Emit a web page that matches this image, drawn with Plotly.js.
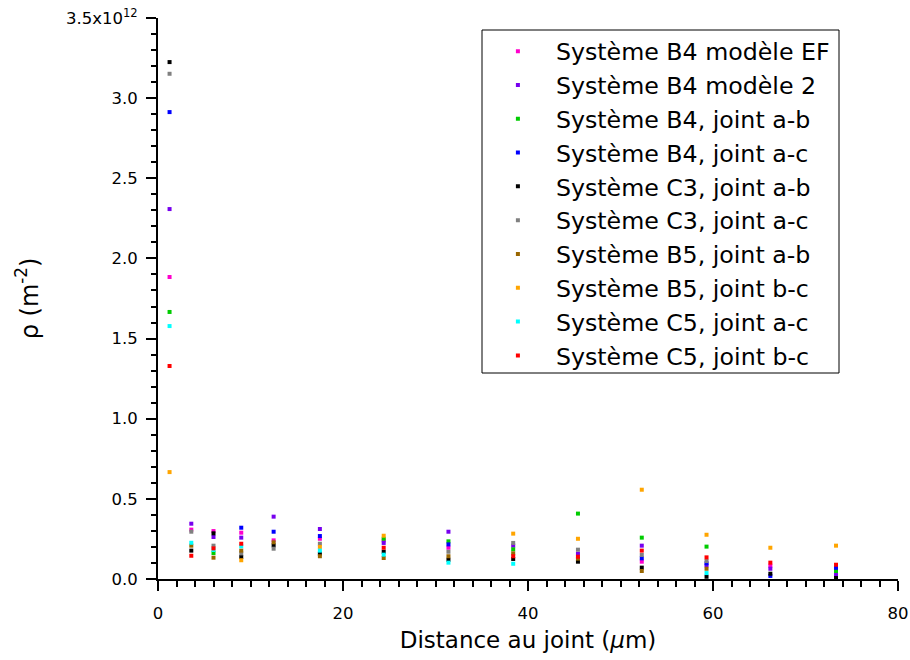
<!DOCTYPE html>
<html>
<head>
<meta charset="utf-8">
<script src="https://cdn.plot.ly/plotly-3.0.1.min.js"></script>
<style>
  html, body { margin: 0; padding: 0; background: #fff; }
  #chart { width: 910px; height: 660px; }
</style>
</head>
<body>
<div id="chart"></div>
<script>
// Series names and colours
const seriesNames = [
  "Système B4 modèle EF",
  "Système B4 modèle 2",
  "Système B4, joint a-b",
  "Système B4, joint a-c",
  "Système C3, joint a-b",
  "Système C3, joint a-c",
  "Système B5, joint a-b",
  "Système B5, joint b-c",
  "Système C5, joint a-c",
  "Système C5, joint b-c"
];
const seriesColors = ["#ff00cc", "#7700ee", "#00cc00", "#0000ff", "#000000",
                      "#808080", "#996600", "#ffa500", "#00ffff", "#ff0000"];

// Distance au joint (µm) and dislocation density (m^-2) per series
const xB4EF = [1.25, 3.6, 6.0, 9.0, 12.5, 17.5, 24.4, 31.4, 52.3, 66.2];
const yB4EF = [1.884e12, 0.308e12, 0.299e12, 0.289e12, 0.241e12, 0.251e12, 0.241e12, 0.195e12, 0.108e12, 0.083e12];

const xB4M2 = [1.25, 3.6, 6.0, 9.0, 12.5, 17.5, 24.4, 31.4, 38.4, 45.4, 52.3, 59.3, 66.2, 73.3];
const yB4M2 = [2.308e12, 0.345e12, 0.262e12, 0.258e12, 0.389e12, 0.312e12, 0.225e12, 0.295e12, 0.208e12, 0.158e12, 0.208e12, 0.085e12, 0.064e12, 0.025e12];

const xB4ab = [1.25, 6.0, 24.4, 31.4, 38.4, 45.4, 52.3, 59.3, 73.3];
const yB4ab = [1.666e12, 0.162e12, 0.251e12, 0.235e12, 0.185e12, 0.408e12, 0.258e12, 0.202e12, 0.050e12];

const xB4ac = [1.25, 9.0, 12.5, 17.5, 31.4, 52.3, 59.3, 66.2, 73.3];
const yB4ac = [2.913e12, 0.320e12, 0.295e12, 0.268e12, 0.216e12, 0.129e12, 0.098e12, 0.019e12, 0.070e12];

const xC3ab = [1.25, 3.6, 6.0, 9.0, 12.5, 17.5, 24.4, 31.4, 38.4, 45.4, 52.3, 59.3, 66.2, 73.3];
const yC3ab = [3.225e12, 0.177e12, 0.285e12, 0.137e12, 0.210e12, 0.158e12, 0.170e12, 0.120e12, 0.125e12, 0.108e12, 0.071e12, 0.014e12, 0.033e12, 0.006e12];

const xC3ac = [1.25, 3.6, 6.0, 9.0, 12.5, 17.5, 31.4, 38.4, 45.4, 52.3, 59.3];
const yC3ac = [3.152e12, 0.295e12, 0.208e12, 0.160e12, 0.189e12, 0.220e12, 0.170e12, 0.225e12, 0.183e12, 0.150e12, 0.112e12];

const xB5ab = [3.6, 6.0, 9.0, 12.5, 17.5, 24.4, 31.4, 38.4, 45.4, 52.3, 59.3];
const yB5ab = [0.208e12, 0.133e12, 0.177e12, 0.229e12, 0.142e12, 0.131e12, 0.142e12, 0.160e12, 0.127e12, 0.050e12, 0.064e12];

const xB5bc = [1.25, 9.0, 17.5, 24.4, 38.4, 45.4, 52.3, 59.3, 66.2, 73.3];
const yB5bc = [0.667e12, 0.117e12, 0.200e12, 0.270e12, 0.283e12, 0.251e12, 0.557e12, 0.276e12, 0.195e12, 0.208e12];

const xC5ac = [1.25, 3.6, 6.0, 9.0, 17.5, 24.4, 31.4, 38.4, 59.3];
const yC5ac = [1.578e12, 0.226e12, 0.181e12, 0.204e12, 0.177e12, 0.152e12, 0.102e12, 0.095e12, 0.037e12];

const xC5bc = [1.25, 3.6, 6.0, 9.0, 24.4, 38.4, 45.4, 52.3, 59.3, 66.2, 73.3];
const yC5bc = [1.329e12, 0.145e12, 0.191e12, 0.220e12, 0.195e12, 0.142e12, 0.139e12, 0.177e12, 0.135e12, 0.102e12, 0.089e12];

const allX = [xB4EF, xB4M2, xB4ab, xB4ac, xC3ab, xC3ac, xB5ab, xB5bc, xC5ac, xC5bc];
const allY = [yB4EF, yB4M2, yB4ab, yB4ac, yC3ab, yC3ac, yB5ab, yB5bc, yC5ac, yC5bc];

// Tick labels
const yTickVals = [0, 0.5e12, 1.0e12, 1.5e12, 2.0e12, 2.5e12, 3.0e12, 3.5e12];
const yTickText = ["0.0", "0.5", "1.0", "1.5", "2.0", "2.5", "3.0", "3.5x10<sup>12</sup>"];
const xTickVals = [0, 20, 40, 60, 80];
const xTickText = ["0", "20", "40", "60", "80"];

const FONT = "DejaVu Sans, sans-serif";

const traces = seriesNames.map((name, i) => ({
  type: "scatter",
  mode: "markers",
  name: name,
  x: allX[i],
  y: allY[i],
  marker: { symbol: "square", size: 4, color: seriesColors[i], line: { width: 0 } },
  cliponaxis: false
}));

const layout = {
  width: 910,
  height: 660,
  margin: { l: 158, r: 12, t: 18, b: 81 },
  paper_bgcolor: "#ffffff",
  plot_bgcolor: "#ffffff",
  font: { family: FONT, color: "#000", size: 16 },
  showlegend: true,
  legend: {
    x: 0.435, y: 0.980, xanchor: "left", yanchor: "top",
    borderwidth: 0, bgcolor: "rgba(0,0,0,0)",
    font: { family: FONT, size: 23.7, color: "#000" },
    itemwidth: 66,
    tracegroupgap: 0
  },
  shapes: [{
    type: "rect", xref: "paper", yref: "paper",
    x0: (482 - 158) / 740, x1: (839 - 158) / 740,
    y0: (579 - 373) / 561, y1: (579 - 30) / 561,
    line: { color: "#000", width: 1 }, fillcolor: "rgba(0,0,0,0)", layer: "above"
  }],
  xaxis: {
    range: [0, 80],
    tickmode: "array", tickvals: xTickVals, ticktext: xTickText,
    ticks: "outside", ticklen: 10, tickwidth: 2, tickcolor: "#000",
    ticklabelstandoff: 8,
    showline: true, linecolor: "#000", linewidth: 2,
    showgrid: false, zeroline: false,
    tickfont: { family: FONT, size: 16.5, color: "#000" },
    minor: { dtick: 2, tick0: 0, ticks: "outside", ticklen: 6, tickwidth: 2, tickcolor: "#000", showgrid: false },
    title: { text: "Distance au joint (<i>μ</i>m)", font: { family: FONT, size: 23, color: "#000" }, standoff: 10 }
  },
  yaxis: {
    range: [0, 3.5e12],
    tickmode: "array", tickvals: yTickVals, ticktext: yTickText,
    ticks: "outside", ticklen: 10, tickwidth: 2, tickcolor: "#000",
    ticklabelstandoff: 5,
    showline: true, linecolor: "#000", linewidth: 2,
    showgrid: false, zeroline: false,
    tickfont: { family: FONT, size: 16.5, color: "#000" },
    minor: { dtick: 0.1e12, tick0: 0, ticks: "outside", ticklen: 5, tickwidth: 2, tickcolor: "#000", showgrid: false },
    title: { text: "ρ (m<sup>-2</sup>)", font: { family: FONT, size: 24, color: "#000" }, standoff: 21 }
  }
};

Plotly.newPlot("chart", traces, layout, { displayModeBar: false, staticPlot: true });
</script>
</body>
</html>
